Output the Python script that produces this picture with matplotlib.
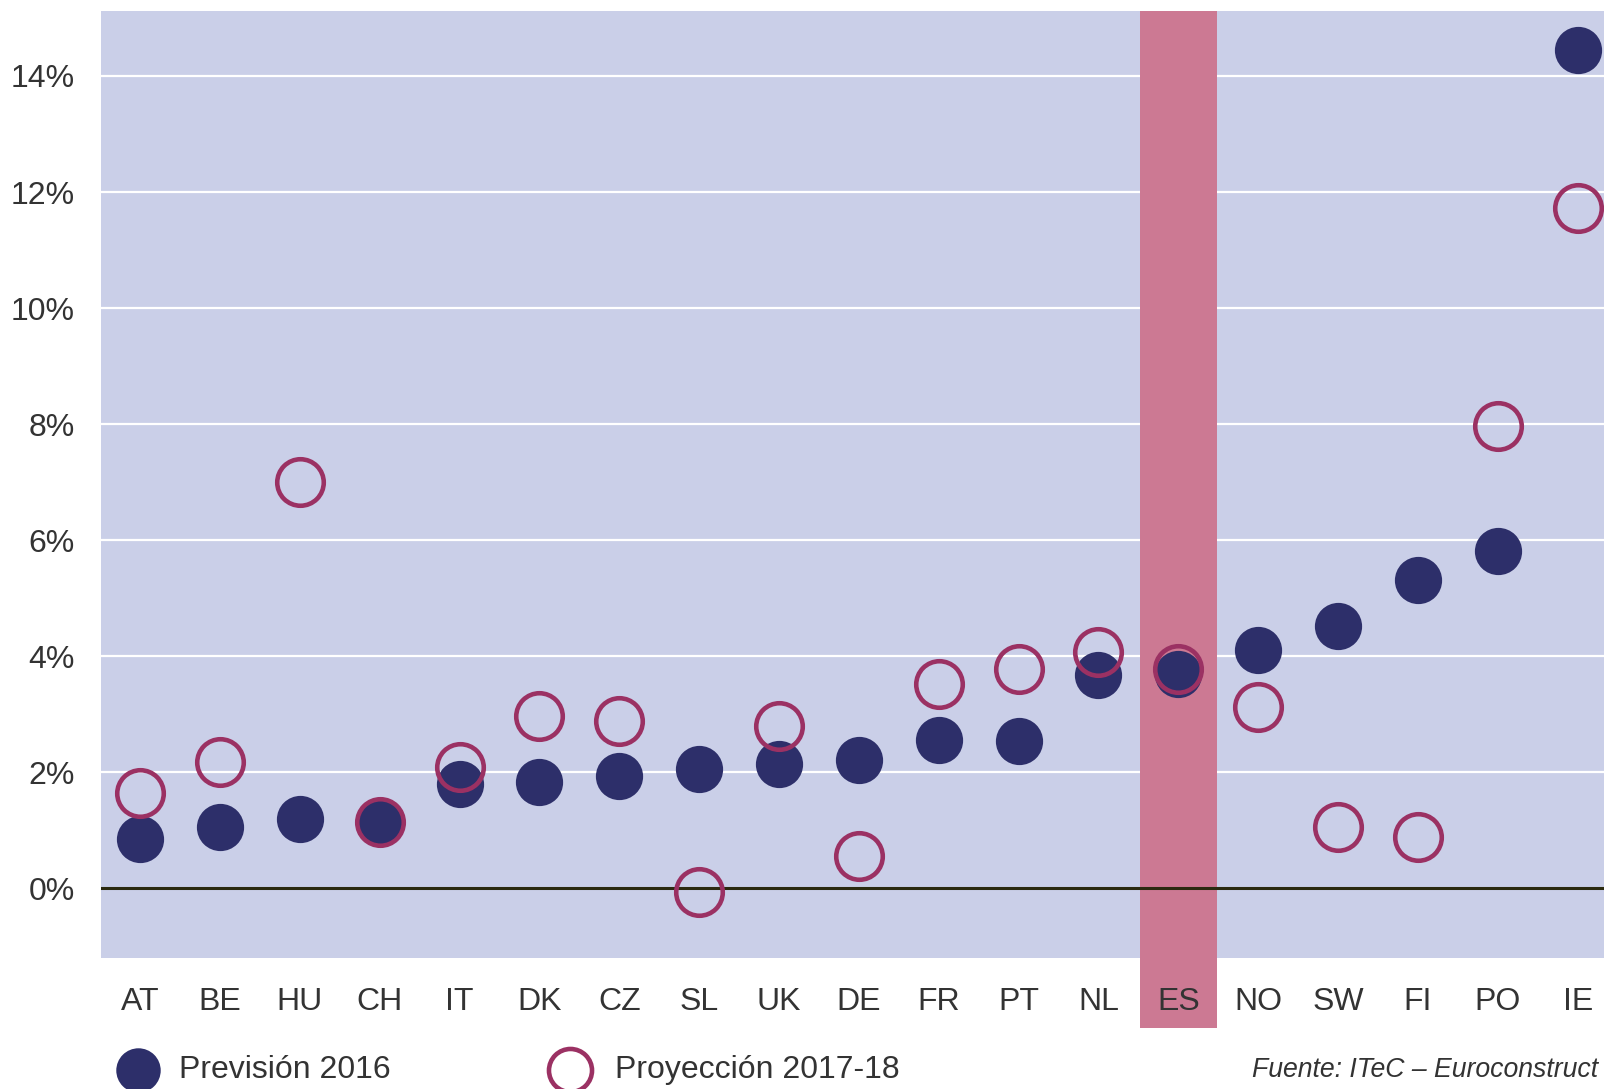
import matplotlib
matplotlib.use("Agg")
import matplotlib.pyplot as plt
from matplotlib.lines import Line2D

plt.rcParams['font.family'] = ['Liberation Sans', 'DejaVu Sans']

countries = ["AT", "BE", "HU", "CH", "IT", "DK", "CZ", "SL", "UK", "DE",
             "FR", "PT", "NL", "ES", "NO", "SW", "FI", "PO", "IE"]
prevision_2016 = [0.85, 1.06, 1.19, 1.13, 1.80, 1.84, 1.93, 2.05, 2.14, 2.21,
                  2.56, 2.54, 3.67, 3.69, 4.11, 4.52, 5.31, 5.81, 14.45]
proyeccion_2017_18 = [1.64, 2.17, 7.00, 1.15, 2.10, 2.97, 2.88, -0.07, 2.79, 0.55,
                      3.53, 3.78, 4.08, 3.78, 3.12, 1.05, 0.89, 7.96, 11.73]
yticks = [0, 2, 4, 6, 8, 10, 12, 14]
highlight = "ES"

BG = "#CACFE8"
NAVY = "#2D2F6A"
RING = "#9B3163"
BAND = "#CC7993"
TXT = "#333333"

fig = plt.figure(figsize=(16.04, 10.89), dpi=100)
ax = fig.add_axes([101/1604, 1-958/1089, 1-101/1604, (958-11)/1089])
ax.set_facecolor(BG)
x = list(range(len(countries)))

ax.set_xlim(-0.49, len(countries) - 1 + 0.33)
ax.set_ylim(-1.2, 15.12)

for yv in yticks:
    if yv == 0:
        continue
    ax.axhline(yv, color="white", lw=1.6, zorder=1)
ax.axhline(0, color="#2B2A10", lw=2.2, zorder=2)

hi = countries.index(highlight)
ax.axvspan(hi - 0.48, hi + 0.48, ymin=-0.074, ymax=1, color=BAND, zorder=1.5,
           clip_on=False, lw=0)

ax.plot(x, prevision_2016, 'o', ls='none', ms=34, color=NAVY, mec=NAVY, mew=0, zorder=3)
ax.plot(x, proyeccion_2017_18, 'o', ls='none', ms=33.5, mfc='none', mec=RING, mew=3.3, zorder=4)

ax.set_xticks(x)
ax.set_xticklabels(countries)
ax.set_yticks(yticks)
ax.set_yticklabels([f"{v}%" for v in yticks])
ax.tick_params(axis='both', length=0, labelsize=23, colors=TXT)
ax.tick_params(axis='x', pad=21)
ax.tick_params(axis='y', pad=19)
for s in ax.spines.values():
    s.set_visible(False)

# legend
ly = 1 - 1070/1089
fig.add_artist(Line2D([138/1604], [ly], transform=fig.transFigure, marker='o', ms=32,
                      color=NAVY, mew=0, ls='none'))
fig.text(179/1604, ly, "Previsión 2016", fontsize=23, color=TXT, va='center', ha='left')
fig.add_artist(Line2D([570/1604], [ly], transform=fig.transFigure, marker='o', ms=31,
                      mfc='none', mec=RING, mew=3.3, ls='none'))
fig.text(615/1604, ly, "Proyección 2017-18", fontsize=23, color=TXT, va='center', ha='left')
fig.text(1598/1604, ly, "Fuente: ITeC – Euroconstruct", fontsize=19.2, color=TXT,
         va='center', ha='right', style='italic')

fig.savefig("out.png", dpi=100, facecolor="white")
